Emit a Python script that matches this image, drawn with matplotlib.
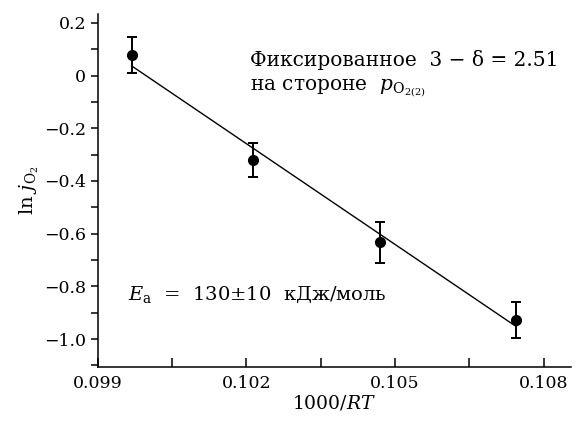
import numpy as np
import matplotlib
matplotlib.use("Agg")
import matplotlib.pyplot as plt
from matplotlib.ticker import MultipleLocator, FuncFormatter

# Dados
x_pts = [0.09968, 0.10214, 0.10470, 0.10745]
y_pts = [0.077, -0.321, -0.632, -0.928]
y_err = [0.068, 0.064, 0.078, 0.069]
fit_x = [0.09968, 0.10745]
fit_y = [0.037, -0.953]

plt.rcParams["font.family"] = ["DejaVu Serif"]
plt.rcParams["mathtext.fontset"] = "dejavuserif"

fig = plt.figure(figsize=(5.79, 4.28), dpi=100)
ax = fig.add_axes([0.169, 0.1425, 0.817, 0.825])

ax.plot(fit_x, fit_y, color="k", linewidth=1.0)
ax.errorbar(x_pts, y_pts, yerr=y_err, fmt="o", color="k", ms=7,
            elinewidth=1.4, capsize=3.5, capthick=1.4)

ax.set_xlim(0.099, 0.10855)
ax.set_ylim(-1.106, 0.234)

ax.spines["top"].set_visible(False)
ax.spines["right"].set_visible(False)
for s in ("left", "bottom"):
    ax.spines[s].set_linewidth(1.1)

ax.xaxis.set_major_locator(MultipleLocator(0.003))
ax.xaxis.set_minor_locator(MultipleLocator(0.0015))
ax.yaxis.set_major_locator(MultipleLocator(0.2))
ax.yaxis.set_minor_locator(MultipleLocator(0.1))
ax.xaxis.set_major_formatter(FuncFormatter(lambda v, p: f"{v:.3f}"))
ax.yaxis.set_major_formatter(
    FuncFormatter(lambda v, p: "0" if abs(v) < 1e-9 else f"{v:.1f}".replace("-", "\u2212")))

ax.tick_params(axis="y", which="both", direction="out", length=5, width=1.1, labelsize=12.5)
ax.tick_params(axis="x", which="both", direction="in", length=6.5, width=1.1, labelsize=12.5, pad=6)

ax.set_xlabel("1000/$RT$", fontsize=13.5, labelpad=1)
ax.set_ylabel("ln $j_{\\mathrm{O_2}}$", fontsize=14, labelpad=2)

ax.text(0.322, 0.87, "Фиксированное  3 \u2212 δ = 2.51", transform=ax.transAxes,
        fontsize=14.5, va="center", ha="left")
ax.text(0.322, 0.79, "на стороне  $p_{\\mathrm{O_{2(2)}}}$", transform=ax.transAxes,
        fontsize=14.5, va="center", ha="left")
ax.text(0.063, 0.204, "$E_\\mathrm{a}$  =  130±10  кДж/моль", transform=ax.transAxes,
        fontsize=14, va="center", ha="left")

fig.savefig("out.png", dpi=100)
